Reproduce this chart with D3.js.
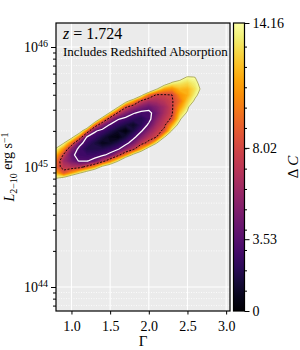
<!DOCTYPE html>
<html>
<head>
<meta charset="utf-8">
<script src="https://cdn.jsdelivr.net/npm/d3@7"></script>
<style>
	body{margin:0;background:#fff;}
	svg{display:block;}
	text{font-family:"Liberation Serif",serif;fill:#000;}
</style>
</head>
<body>
<svg id="chart" width="300" height="350"></svg>
<script>

// fit grid: photon index (columns) and log L (rows, top to bottom)
var gamma = [0.8,0.9,1.0,1.1,1.2,1.3,1.4,1.5,1.6,1.7,1.8,1.9,2.0,2.1,2.2,2.3,2.4,2.5,2.6,2.7];
var logL = [45.80,45.75,45.70,45.65,45.60,45.55,45.50,45.45,45.40,45.35,45.30,45.25,45.20,45.15,45.10,45.05,45.00,44.95,44.90,44.85];

// delta C, one row per logL value
var deltaC = [
	[25,25,25,25,25,25,25,25,25,25,25,25,25,25,25,20.0,18.3,17.3,17.9,20],
	[25,25,25,25,25,25,25,25,25,25,25,25,25,25,20.5,16.9,15.3,14.0,14.2,16.5],
	[25,25,25,25,25,25,25,25,25,25,25,25,25,22.6,15.9,13.8,13.3,12.9,13.6,15.2],
	[25,25,25,25,25,25,25,25,25,25,25,23.4,19.2,14.4,11.3,10.7,12.0,11.8,13.1,14.8],
	[25,25,25,25,25,25,25,25,25,23.1,20.8,15.3,10.0,7.7,7.8,8.0,10.7,11.6,13.7,15.3],
	[25,25,25,25,25,25,25,25,21.9,15.8,11.6,7.7,6.3,6.4,7.0,7.8,9.7,12.5,14.6,16.5],
	[25,25,25,25,25,25,25,22.3,14.5,8.4,6.4,5.0,4.2,5.1,6.2,7.7,10.9,13.4,18.2,20],
	[25,25,25,25,25,25,20.8,13.1,7.6,5.2,3.7,3.0,3.0,4.5,6.4,7.8,12.2,14.6,21.8,25],
	[24.0,25,25,25,25,19.2,11.6,6.3,3.7,2.9,2.3,1.9,2.9,5.3,7.0,8.4,13.5,18.2,25,25],
	[22.0,25,25,22.6,19.2,10.0,5.3,3.2,2.3,1.6,1.0,2.1,3.9,6.2,7.5,11.5,15.5,21.8,25,25],
	[20.0,21.7,20.5,16.5,10.0,3.8,2.8,1.9,1.0,0.3,1.7,3.3,5.4,7.1,8.6,14.5,18.5,25,25,25],
	[18.0,18.0,15.3,10.4,3.4,2.6,1.6,0.7,0.4,1.5,2.9,5.0,6.8,8.0,13.9,17.6,21.5,25,25,25],
	[16.0,14.3,10.0,4.3,2.6,1.6,0.7,1.0,1.8,2.8,4.7,7.0,8.9,13.9,19.2,20.7,24.5,25,25,25],
	[13.9,10.7,5.3,3.0,1.8,1.8,1.9,2.4,3.2,5.3,7.4,11.3,16.3,20.0,24.4,23.8,25,25,25,25],
	[11.9,7.6,4.0,2.8,2.6,2.7,3.1,4.2,7.1,10.6,15.2,18.7,23.6,25,25,25,25,25,25,25],
	[9.9,6.1,4.6,3.4,3.4,4.3,6.9,10.1,13.8,19.8,24.4,25,25,25,25,25,25,25,25,25],
	[9.2,7.1,6.8,7.1,8.9,11.3,15.2,17.5,21.2,25,25,25,25,25,25,25,25,25,25,25],
	[11.8,8.9,11.3,13.8,16.3,18.7,24.4,24.8,25,25,25,25,25,25,25,25,25,25,25,25],
	[14.5,16.2,18.7,21.2,23.6,25,25,25,25,25,25,25,25,25,25,25,25,25,25,25],
	[17.1,23.6,25,25,25,25,25,25,25,25,25,25,25,25,25,25,25,25,25,25]
];

var contourLevels = [3.53, 8.02, 14.16];
var cbMax = 14.16;
var xTicks = [1.0, 1.5, 2.0, 2.5, 3.0];
var yTicks = [1e44, 1e45, 1e46];
var yMinorTicks = [7e43,8e43,9e43,2e44,3e44,4e44,5e44,6e44,7e44,8e44,9e44,2e45,3e45,4e45,5e45,6e45,7e45,8e45,9e45];
var cbTicks = [0, 3.53, 8.02, 14.16];
var cbTickLabels = ['0', '3.53', '8.02', '14.16'];
var cbMinorTicks = [1,2,3,4,5,6,7,8,9,10,11,12,13];

var pL = 56, pR = 230, pT = 23, pB = 311;

var x = d3.scaleLinear().domain([0.8, 3.05]).range([pL, pR]);
var y = d3.scaleLog().domain([Math.pow(10, 43.8), Math.pow(10, 46.2)]).range([pB, pT]);
var cScale = d3.scaleLinear().domain([0, cbMax]).range([pB, pT]);

var svg = d3.select('#chart');
var defs = svg.append('defs');

defs.append('clipPath').attr('id', 'plotClip')
	.append('rect')
	.attr('x', pL).attr('y', pT)
	.attr('width', pR - pL).attr('height', pB - pT);

// background
svg.append('rect')
	.attr('x', pL).attr('y', pT)
	.attr('width', pR - pL).attr('height', pB - pT)
	.attr('fill', '#ebebeb');

// grid
var grid = svg.append('g');
grid.selectAll('.yminor').data(yMinorTicks).enter().append('line')
	.attr('x1', pL).attr('x2', pR)
	.attr('y1', d => y(d)).attr('y2', d => y(d))
	.attr('stroke', '#fff').attr('stroke-width', 0.8)
	.attr('stroke-dasharray', '1,1.5');
grid.selectAll('.ymajor').data(yTicks).enter().append('line')
	.attr('x1', pL).attr('x2', pR)
	.attr('y1', d => y(d)).attr('y2', d => y(d))
	.attr('stroke', '#fff').attr('stroke-width', 1.1);
grid.selectAll('.xmajor').data(xTicks).enter().append('line')
	.attr('x1', d => x(d)).attr('x2', d => x(d))
	.attr('y1', pT).attr('y2', pB)
	.attr('stroke', '#fff').attr('stroke-width', 1.1);

// filled map
var nx = gamma.length, ny = logL.length;
var values = [];
deltaC.forEach(row => row.forEach(v => values.push(-v)));
var dG = gamma[1] - gamma[0];
var dL = logL[0] - logL[1];

var proj = d3.geoTransform({
	point: function(px, py) {
		this.stream.point(
			x(gamma[0] + (px - 0.5) * dG),
			y(Math.pow(10, logL[0] - (py - 0.5) * dL))
		);
	}
});
var path = d3.geoPath(proj);
var contours = d3.contours().size([nx, ny]);

var map = svg.append('g').attr('clip-path', 'url(#plotClip)');
var nBands = 60;
for (var k = nBands; k >= 1; k--) {
	var t = cbMax * k / nBands;
	map.append('path')
		.attr('d', path(contours.contour(values, -t)))
		.attr('fill', d3.interpolateInferno((t - cbMax / nBands / 2) / cbMax));
}

// contour lines
map.append('path')
	.attr('d', path(contours.contour(values, -contourLevels[2])))
	.attr('fill', 'none')
	.attr('stroke', '#a09c46')
	.attr('stroke-width', 0.8);
map.append('path')
	.attr('d', path(contours.contour(values, -contourLevels[1])))
	.attr('fill', 'none')
	.attr('stroke', '#000')
	.attr('stroke-width', 0.9)
	.attr('stroke-dasharray', '2,1.5');
map.append('path')
	.attr('d', path(contours.contour(values, -contourLevels[0])))
	.attr('fill', 'none')
	.attr('stroke', '#fff')
	.attr('stroke-width', 1.3);

// axes
var gx = svg.append('g')
	.attr('transform', 'translate(0,' + pB + ')')
	.call(d3.axisBottom(x).tickValues(xTicks).tickSize(3.5).tickPadding(6.5).tickFormat(d3.format('.1f')));
gx.select('.domain').remove();
gx.selectAll('text').attr('font-family', 'Liberation Serif').attr('font-size', 14);

var gyMinor = svg.append('g')
	.attr('transform', 'translate(' + pL + ',0)')
	.call(d3.axisLeft(y).tickValues(yMinorTicks).tickSize(3).tickFormat(''));
gyMinor.select('.domain').remove();

var gy = svg.append('g')
	.attr('transform', 'translate(' + pL + ',0)')
	.call(d3.axisLeft(y).tickValues(yTicks).tickSize(5).tickFormat(''));
gy.select('.domain').remove();

var yLabels = svg.append('g');
yTicks.forEach(function(d) {
	var tx = yLabels.append('text')
		.attr('x', 48).attr('y', y(d))
		.attr('text-anchor', 'end')
		.attr('font-size', 14);
	tx.append('tspan').attr('dy', '0.35em').text('10');
	tx.append('tspan').attr('dy', '-0.5em').attr('font-size', 10)
		.text(Math.round(Math.log10(d)));
});

svg.selectAll('.tick line').attr('stroke', '#000').attr('stroke-width', 1);

// frame
svg.append('rect')
	.attr('x', pL).attr('y', pT)
	.attr('width', pR - pL).attr('height', pB - pT)
	.attr('fill', 'none').attr('stroke', '#000').attr('stroke-width', 1.2);

// axis labels
svg.append('text')
	.attr('x', (pL + pR) / 2).attr('y', 346)
	.attr('text-anchor', 'middle')
	.attr('font-size', 15)
	.text('Γ');

var yl = svg.append('text')
	.attr('transform', 'translate(13.5,' + ((pT + pB) / 2) + ') rotate(-90)')
	.attr('text-anchor', 'middle')
	.attr('font-size', 14);
yl.append('tspan').attr('font-style', 'italic').text('L');
yl.append('tspan').attr('font-size', 10).attr('dy', '0.3em').text('2−10');
yl.append('tspan').attr('dy', '-0.3em').text(' erg s');
yl.append('tspan').attr('font-size', 10).attr('dy', '-0.4em').text('−1');

// annotations
var zt = svg.append('text')
	.attr('x', 63).attr('y', 39)
	.attr('font-size', 16);
zt.append('tspan').attr('font-style', 'italic').text('z');
zt.append('tspan').text(' = 1.724');

svg.append('text')
	.attr('x', 63).attr('y', 56)
	.attr('font-size', 13)
	.text('Includes Redshifted Absorption');

// colorbar
var cbX = 233.5, cbW = 11;
var grad = defs.append('linearGradient').attr('id', 'cbGrad')
	.attr('x1', 0).attr('x2', 0).attr('y1', 1).attr('y2', 0);
d3.range(0, 1.0001, 0.05).forEach(function(s) {
	grad.append('stop').attr('offset', s).attr('stop-color', d3.interpolateInferno(s));
});
svg.append('rect')
	.attr('x', cbX).attr('y', cScale(cbMax))
	.attr('width', cbW).attr('height', cScale(0) - cScale(cbMax))
	.attr('fill', 'url(#cbGrad)');

var cbMinor = svg.append('g')
	.attr('transform', 'translate(' + (cbX + cbW) + ',0)')
	.call(d3.axisRight(cScale).tickValues(cbMinorTicks).tickSize(2.5).tickFormat(''));
cbMinor.select('.domain').remove();

var cbAxis = svg.append('g')
	.attr('transform', 'translate(' + (cbX + cbW) + ',0)')
	.call(d3.axisRight(cScale).tickValues(cbTicks).tickSize(5).tickPadding(3)
		.tickFormat((d, i) => cbTickLabels[i]));
cbAxis.select('.domain').remove();
cbAxis.selectAll('text').attr('font-family', 'Liberation Serif').attr('font-size', 14);
cbAxis.selectAll('line').attr('stroke', '#000');
cbMinor.selectAll('line').attr('stroke', '#000');

svg.append('rect')
	.attr('x', cbX).attr('y', cScale(cbMax))
	.attr('width', cbW).attr('height', cScale(0) - cScale(cbMax))
	.attr('fill', 'none').attr('stroke', '#000').attr('stroke-width', 1.2);

var cl = svg.append('text')
	.attr('transform', 'translate(298,' + ((pT + pB) / 2) + ') rotate(-90)')
	.attr('text-anchor', 'middle')
	.attr('font-size', 15);
cl.append('tspan').text('Δ ');
cl.append('tspan').attr('font-style', 'italic').text('C');

</script>
</body>
</html>
